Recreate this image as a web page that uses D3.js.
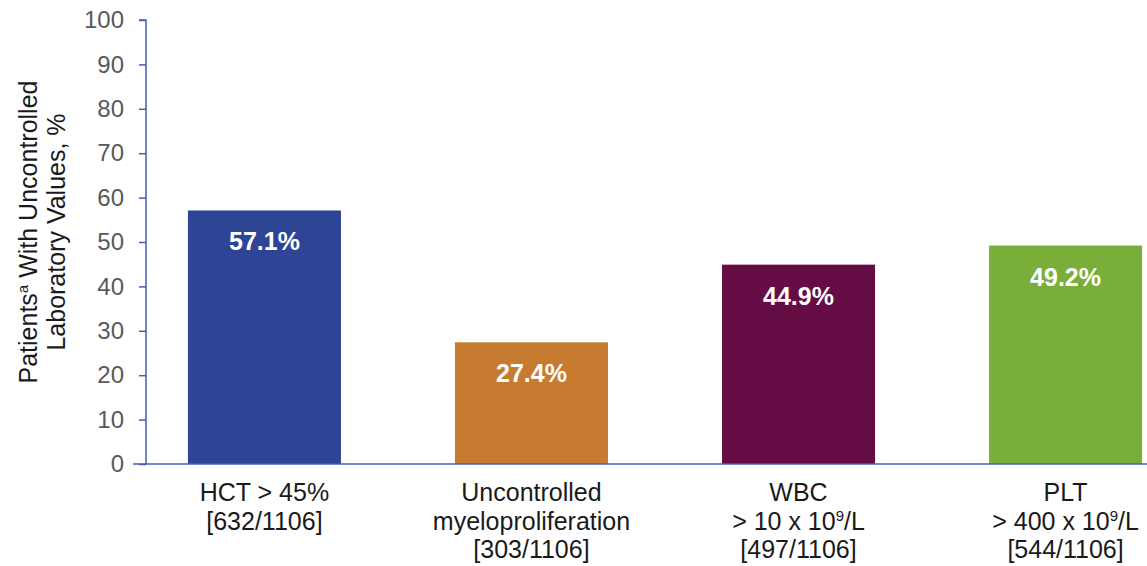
<!DOCTYPE html>
<html>
<head>
<meta charset="utf-8">
<script src="https://cdn.jsdelivr.net/npm/d3@7"></script>
<style>
  body { margin: 0; background: #fff; }
  text { font-family: "Liberation Sans", Arial, sans-serif; }
</style>
</head>
<body>
<svg id="chart" width="1147" height="566"></svg>
<script>
// data
const categories = ['HCT', 'Uncontrolled', 'WBC', 'PLT'];
const values = [57.1, 27.4, 44.9, 49.2];
const labelLines = [
  ['HCT > 45%', '[632/1106]'],
  ['Uncontrolled', 'myeloproliferation', '[303/1106]'],
  ['WBC', '> 10 x 10|9|/L', '[497/1106]'],
  ['PLT', '> 400 x 10|9|/L', '[544/1106]']
];
const colors = ['#2e4596', '#c77b30', '#660c45', '#7aae3b'];
const yTicks = [0, 10, 20, 30, 40, 50, 60, 70, 80, 90, 100];

const chartW = 1147;
const plotLeft = 146, plotTop = 20, plotBottom = 464;
const axisColor = '#4a5cb5';

const svg = d3.select('#chart');

const x = d3.scaleBand()
  .domain(categories)
  .range([plotLeft, 1184])
  .paddingInner(0.427)
  .paddingOuter(0.157);

const y = d3.scaleLinear().domain([0, 100]).range([plotBottom, plotTop]);

// bars
svg.selectAll('.bar')
  .data(values)
  .enter()
  .append('rect')
  .attr('class', 'bar')
  .attr('x', (d, i) => x(categories[i]))
  .attr('y', d => y(d))
  .attr('width', x.bandwidth())
  .attr('height', d => y(0) - y(d))
  .attr('fill', (d, i) => colors[i]);

// value labels
svg.selectAll('.val')
  .data(values)
  .enter()
  .append('text')
  .attr('x', (d, i) => x(categories[i]) + x.bandwidth() / 2)
  .attr('y', d => y(d) + 40)
  .attr('text-anchor', 'middle')
  .attr('fill', '#fff')
  .attr('font-weight', 'bold')
  .attr('font-size', 25)
  .text(d => d.toFixed(1) + '%');

// y axis
const yAxis = svg.append('g')
  .attr('transform', `translate(${plotLeft},0)`)
  .call(d3.axisLeft(y).tickValues(yTicks).tickSize(7).tickPadding(15));
yAxis.select('.domain').attr('stroke', axisColor).attr('stroke-width', 1.5)
  .attr('d', `M-7,${plotTop}H0V${plotBottom}`);
yAxis.selectAll('.tick line').attr('stroke', axisColor).attr('stroke-width', 1.5);
yAxis.selectAll('.tick text')
  .attr('fill', '#595959')
  .attr('font-size', 24)
  .attr('font-family', '"Liberation Sans", Arial, sans-serif');

// x axis line
svg.append('line')
  .attr('x1', 133).attr('x2', chartW)
  .attr('y1', y(0)).attr('y2', y(0))
  .attr('stroke', axisColor)
  .attr('stroke-width', 1.5);

// category labels
labelLines.forEach((lines, i) => {
  const cx = x(categories[i]) + x.bandwidth() / 2;
  lines.forEach((line, j) => {
    const t = svg.append('text')
      .attr('x', cx)
      .attr('y', 501 + j * 28.5)
      .attr('text-anchor', 'middle')
      .attr('fill', '#1a1a1a')
      .attr('font-size', 25);
    const parts = line.split('|');
    parts.forEach((p, k) => {
      const s = t.append('tspan').text(p);
      if (k === 1) s.attr('font-size', 15).attr('dy', -9);
      if (k === 2) s.attr('dy', 9);
    });
  });
});

// y title
const title = svg.append('text')
  .attr('transform', 'translate(42,232) rotate(-90)')
  .attr('text-anchor', 'middle')
  .attr('fill', '#1a1a1a')
  .attr('font-size', 25);
const l1 = title.append('tspan').attr('x', 0).attr('dy', -5);
l1.append('tspan').text('Patients');
l1.append('tspan').text('a').attr('font-size', 15).attr('dy', -9);
l1.append('tspan').text(' With Uncontrolled').attr('dy', 9);
title.append('tspan').attr('x', 0).attr('dy', 28).text('Laboratory Values, %');
</script>
</body>
</html>
